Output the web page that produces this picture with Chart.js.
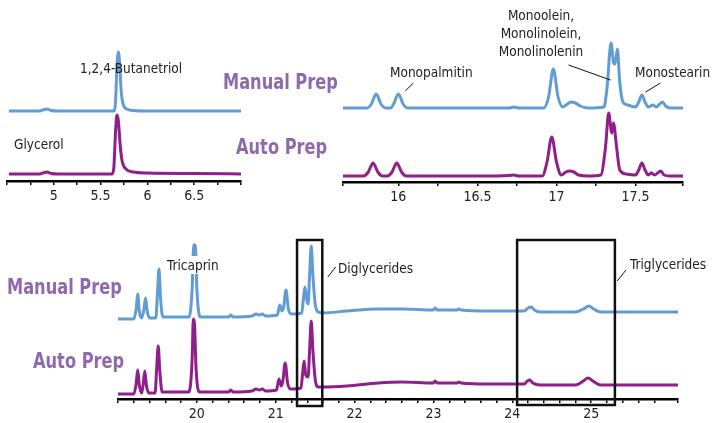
<!DOCTYPE html>
<html>
<head>
<meta charset="utf-8">
<script src="https://cdn.jsdelivr.net/npm/chart.js@4"></script>
<style>
  body { margin: 0; background: #fff; }
  #wrap { position: relative; width: 713px; height: 423px; overflow: hidden; font-family: "Liberation Sans Narrow", "DejaVu Sans Condensed", "Roboto", sans-serif; }
  canvas { position: absolute; }
  .lbl { position: absolute; color: #222; font-size: 13.5px; white-space: nowrap; line-height: 18px; }
  .prep { position: absolute; color: #8f69ad; font-size: 22px; font-weight: bold; white-space: nowrap; line-height: 24px; transform: scaleX(0.82); transform-origin: left center; }
</style>
</head>
<body>
<div id="wrap">
  <canvas id="topLeft" width="250" height="210" style="left:0;top:0"></canvas>
  <canvas id="topRight" width="383" height="210" style="left:330px;top:0"></canvas>
  <canvas id="bottom" width="600" height="193" style="left:100px;top:230px"></canvas>

  <div class="lbl" style="left:80px;top:59px">1,2,4-Butanetriol</div>
  <div class="lbl" style="left:14px;top:135px">Glycerol</div>
  <div class="prep" style="left:223px;top:70px">Manual Prep</div>
  <div class="prep" style="left:236px;top:135px">Auto Prep</div>
  <div class="lbl" style="left:390px;top:63px">Monopalmitin</div>
  <div class="lbl" style="left:496px;top:6px;text-align:center;width:90px">Monoolein,<br>Monolinolein,<br>Monolinolenin</div>
  <div class="lbl" style="left:635px;top:63px">Monostearin</div>
  <div class="prep" style="left:7px;top:275px">Manual Prep</div>
  <div class="prep" style="left:33px;top:349px">Auto Prep</div>
  <div class="lbl" style="left:167px;top:256px;background:#fff">Tricaprin</div>
  <div class="lbl" style="left:338px;top:259px;background:#fff">Diglycerides</div>
  <div class="lbl" style="left:630px;top:255px;background:#fff">Triglycerides</div>
</div>
<script>
// ticks that carry a label
const topLeftTicks = [5, 5.5, 6, 6.5];
const topRightTicks = [16, 16.5, 17, 17.5];
const bottomTicks = [20, 21, 22, 23, 24, 25];

// retention time (min) / response
const manualTopLeft = [[4.52,70],[4.85,70],[4.9,71.5],[4.93,72],[4.97,70.5],[5.05,70],[5.5,70],[5.64,70],[5.66,80],[5.675,115],[5.69,129],[5.705,115],[5.72,90],[5.74,77],[5.78,72],[5.85,70.5],[6.0,70],[7.02,70]];
const autoTopLeft = [[4.52,7],[4.85,7],[4.9,8.5],[4.93,9],[4.97,7.5],[5.05,7],[5.62,7],[5.64,12],[5.66,50],[5.675,66],[5.69,60],[5.71,35],[5.73,20],[5.77,12],[5.85,9],[6.0,8],[6.5,7.5],[7.02,7]];

const manualTopRight = [[15.65,74],[15.8,74],[15.83,78],[15.86,88],[15.89,78],[15.92,74],[15.95,74],[15.97,78],[16.0,88],[16.03,78],[16.06,74],[16.2,74],[16.5,74],[16.7,74],[16.73,75],[16.76,74],[16.92,74],[16.95,85],[16.98,113],[17.01,85],[17.04,75],[17.07,78],[17.09,80],[17.12,79],[17.15,76],[17.2,74],[17.3,75],[17.32,95],[17.345,139],[17.36,120],[17.37,118],[17.385,133],[17.4,100],[17.42,80],[17.45,77],[17.5,75],[17.52,80],[17.54,87],[17.56,80],[17.58,75],[17.61,77],[17.63,75],[17.67,80],[17.69,76],[17.72,74],[17.8,74]];
const autoTopRight = [[15.65,6],[15.78,6],[15.81,10],[15.84,19],[15.87,10],[15.9,6],[15.93,6],[15.96,10],[15.99,19],[16.02,10],[16.05,6],[16.5,6],[16.7,6.5],[16.73,7],[16.76,6],[16.91,6],[16.94,20],[16.97,45],[17.0,20],[17.03,7],[17.06,10],[17.08,11],[17.11,10],[17.14,7],[17.2,6],[17.28,7],[17.31,35],[17.33,69],[17.345,52],[17.35,49],[17.36,59],[17.38,35],[17.4,12],[17.44,8],[17.5,7],[17.52,12],[17.54,19],[17.56,12],[17.58,7],[17.6,9],[17.62,7],[17.66,11],[17.68,7],[17.72,6],[17.8,6]];

const manualBottom = [[19.0,80],[19.2,80],[19.23,90],[19.25,105],[19.27,88],[19.3,81],[19.33,90],[19.35,101],[19.37,88],[19.4,81],[19.48,81],[19.5,105],[19.52,130],[19.54,100],[19.57,82],[19.9,82],[19.94,110],[19.96,154],[19.98,154],[20.0,110],[20.04,82],[20.4,82],[20.43,84],[20.46,82],[20.7,83],[20.75,85],[20.79,84],[20.83,85],[20.87,83],[21.02,84],[21.05,94],[21.08,88],[21.1,92],[21.13,109],[21.16,90],[21.2,85],[21.33,86],[21.35,100],[21.37,112],[21.39,100],[21.41,95],[21.43,125],[21.45,153],[21.47,125],[21.5,95],[21.54,87],[21.6,86],[21.9,88],[22.3,90],[22.6,90],[23.0,89],[23.02,91],[23.05,89],[23.3,89],[23.32,90],[23.35,89],[23.7,88],[24.0,88],[24.15,88],[24.2,91],[24.24,92],[24.28,89],[24.35,87],[24.8,87],[24.9,90],[24.97,93],[25.03,90],[25.12,87],[25.5,87],[26.1,87]];
const autoBottom = [[19.0,5],[19.2,5],[19.23,15],[19.25,29],[19.27,14],[19.3,6],[19.32,15],[19.34,28],[19.36,14],[19.39,6],[19.47,6],[19.49,30],[19.51,53],[19.53,28],[19.56,7],[19.9,7],[19.94,40],[19.955,80],[19.97,75],[19.99,30],[20.03,7],[20.4,7],[20.43,9],[20.46,7],[20.7,8],[20.75,10],[20.79,9],[20.83,10],[20.87,8],[21.01,9],[21.04,20],[21.07,13],[21.09,18],[21.12,36],[21.15,16],[21.19,10],[21.32,11],[21.34,25],[21.36,38],[21.38,24],[21.41,22],[21.43,50],[21.45,78],[21.47,50],[21.5,20],[21.54,12],[21.6,12],[21.9,13],[22.3,16],[22.6,17],[23.0,16],[23.02,18],[23.05,16],[23.3,16],[23.32,17],[23.35,16],[23.7,15],[24.0,15],[24.15,15],[24.19,18],[24.22,19],[24.26,16],[24.35,14],[24.8,14],[24.9,18],[24.96,21],[25.02,18],[25.12,14],[25.5,14],[26.1,14]];

// leader lines and region boxes, in data units
const topRightLeaders = [[16.044,91,16.095,99],[17.076,117,17.342,102],[17.563,90,17.658,99]];
const bottomLeaders = [[21.66,122,21.76,132],[25.33,118,25.44,129]];
const bottomBoxes = [[21.27,159,21.59,-7],[24.06,159,25.30,-6]];

//Plugin to draw leader lines and boxes
const marks = {
    id: 'marks',
    afterDraw(chart, args, opts) {
        const ctx = chart.ctx;
        const x = chart.scales.x, y = chart.scales.y;
        ctx.save();
        ctx.strokeStyle = '#111';
        ctx.lineWidth = 1;
        (opts.lines || []).forEach(l => {
            ctx.beginPath();
            ctx.moveTo(x.getPixelForValue(l[0]), y.getPixelForValue(l[1]));
            ctx.lineTo(x.getPixelForValue(l[2]), y.getPixelForValue(l[3]));
            ctx.stroke();
        });
        ctx.lineWidth = 2.5;
        (opts.boxes || []).forEach(b => {
            const x0 = x.getPixelForValue(b[0]), y0 = y.getPixelForValue(b[1]);
            const x1 = x.getPixelForValue(b[2]), y1 = y.getPixelForValue(b[3]);
            ctx.strokeRect(x0, y0, x1 - x0, y1 - y0);
        });
        ctx.restore();
    }
};

const makeChart = (id, manual, auto, o) => {
    new Chart(document.getElementById(id), {
        type: 'line',
        data: {
            datasets: [
                { label: 'Manual Prep', data: manual, borderColor: '#619cd4', borderWidth: 3, pointRadius: 0, cubicInterpolationMode: 'monotone' },
                { label: 'Auto Prep', data: auto, borderColor: '#8e1f8b', borderWidth: 3, pointRadius: 0, cubicInterpolationMode: 'monotone' }
            ]
        },
        options: {
            responsive: false,
            animation: false,
            events: [],
            layout: { padding: { left: o.padL, right: o.padR, top: 0, bottom: 0 } },
            plugins: {
                legend: { display: false },
                tooltip: { enabled: false },
                marks: { lines: o.lines, boxes: o.boxes }
            },
            scales: {
                x: {
                    type: 'linear',
                    min: o.min, max: o.max,
                    afterFit: s => { s.height = o.axisH; },
                    border: { display: true, color: '#000', width: 2.5 },
                    grid: { drawOnChartArea: false, drawTicks: true, tickLength: 4, color: '#000', lineWidth: 1.5 },
                    ticks: {
                        stepSize: o.step,
                        autoSkip: false,
                        maxRotation: 0,
                        padding: 3,
                        color: '#222',
                        font: { family: '"Liberation Sans Narrow", "DejaVu Sans Condensed", Roboto, sans-serif', size: 14 },
                        callback: v => {
                            const hit = o.labels.find(t => Math.abs(t - v) < 1e-6);
                            return hit === undefined ? '' : String(hit);
                        }
                    }
                },
                y: { display: false, min: 0, max: o.ymax }
            }
        },
        plugins: [marks]
    });
};

makeChart('topLeft', manualTopLeft, autoTopLeft, { min: 4.5, max: 7.0, step: 0.25, labels: topLeftTicks, padL: 7, padR: 9, axisH: 29, ymax: 181 });
makeChart('topRight', manualTopRight, autoTopRight, { min: 15.65, max: 17.8, step: 0.25, labels: topRightTicks, padL: 13, padR: 30, axisH: 28, ymax: 182, lines: topRightLeaders });
makeChart('bottom', manualBottom, autoBottom, { min: 19.0, max: 26.1, step: 0.2, labels: bottomTicks, padL: 18, padR: 22, axisH: 24, ymax: 169, lines: bottomLeaders, boxes: bottomBoxes });
</script>
</body>
</html>
